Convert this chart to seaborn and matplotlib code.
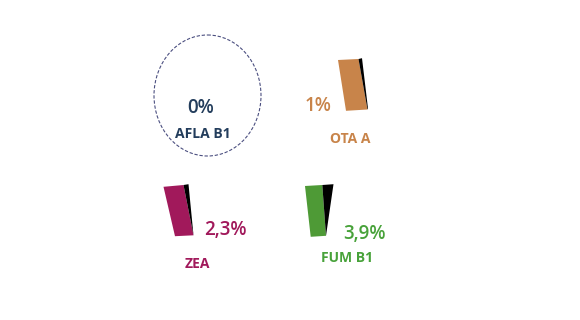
import matplotlib
matplotlib.use("Agg")
import matplotlib.pyplot as plt
from matplotlib.patches import Polygon, Ellipse
import seaborn as sns

# ---- data ----
categories = ["AFLA B1", "OTA A", "ZEA", "FUM B1"]
values = [0.0, 1.0, 2.3, 3.9]
value_labels = ["0%", "1%", "2,3%", "3,9%"]
fill_colors = ["#FFFFFF", "#C8844A", "#A1195B", "#4E9A36"]
text_colors = ["#233D5C", "#C8844A", "#A1195B", "#48A23A"]

# ---- style / layout (pixel coordinates) ----
sns.set_theme(style="white")
plt.rcParams["font.family"] = ["Open Sans", "DejaVu Sans"]

fig = plt.figure(figsize=(5.8, 3.2), dpi=100)
ax = fig.add_axes([0, 0, 1, 1])
ax.set_xlim(0, 580)
ax.set_ylim(320, 0)
ax.axis("off")

# anchor geometry of each slice (front face, dark side face)
faces = {
    "OTA A": ([(338, 60), (358.5, 59), (367.5, 109.5), (346, 110.8)],
              [(358.5, 59), (362, 58.2), (368, 108.5), (367.5, 109.5)]),
    "ZEA": ([(163.5, 186.8), (183.5, 185), (193.5, 235.3), (175, 236.2)],
            [(183.5, 185), (188.5, 184.2), (193.5, 235.3)]),
    "FUM B1": ([(305, 186), (322.3, 185), (326, 235.8), (310.7, 236.8)],
               [(322.3, 185), (333.5, 184.2), (326, 235.8)]),
}
value_pos = {"AFLA B1": (200.5, 108, "center"), "OTA A": (318.5, 106, "center"),
             "ZEA": (225, 230, "center"), "FUM B1": (364, 233.5, "center")}
name_pos = {"AFLA B1": (203, 134), "OTA A": (350, 139),
            "ZEA": (197.5, 264), "FUM B1": (347, 258.5)}

for cat, val, lab, fc, tc in zip(categories, values, value_labels, fill_colors, text_colors):
    if val == 0:
        ax.add_patch(Ellipse((207.5, 95.5), 107, 121, fill=False,
                             edgecolor="#4B4F80", linewidth=0.8,
                             linestyle=(0, (3, 1.6))))
    else:
        front, side = faces[cat]
        ax.add_patch(Polygon(front, closed=True, facecolor=fc, edgecolor="none"))
        ax.add_patch(Polygon(side, closed=True, facecolor="#000000", edgecolor="none"))
    x, y, ha = value_pos[cat]
    ax.text(x, y, lab, color=tc, fontsize=13.5, fontweight="semibold",
            ha=ha, va="center")
    nx, ny = name_pos[cat]
    ax.text(nx, ny, cat, color=tc, fontsize=10, fontweight="bold",
            ha="center", va="center")

fig.savefig("out.png", dpi=100)
